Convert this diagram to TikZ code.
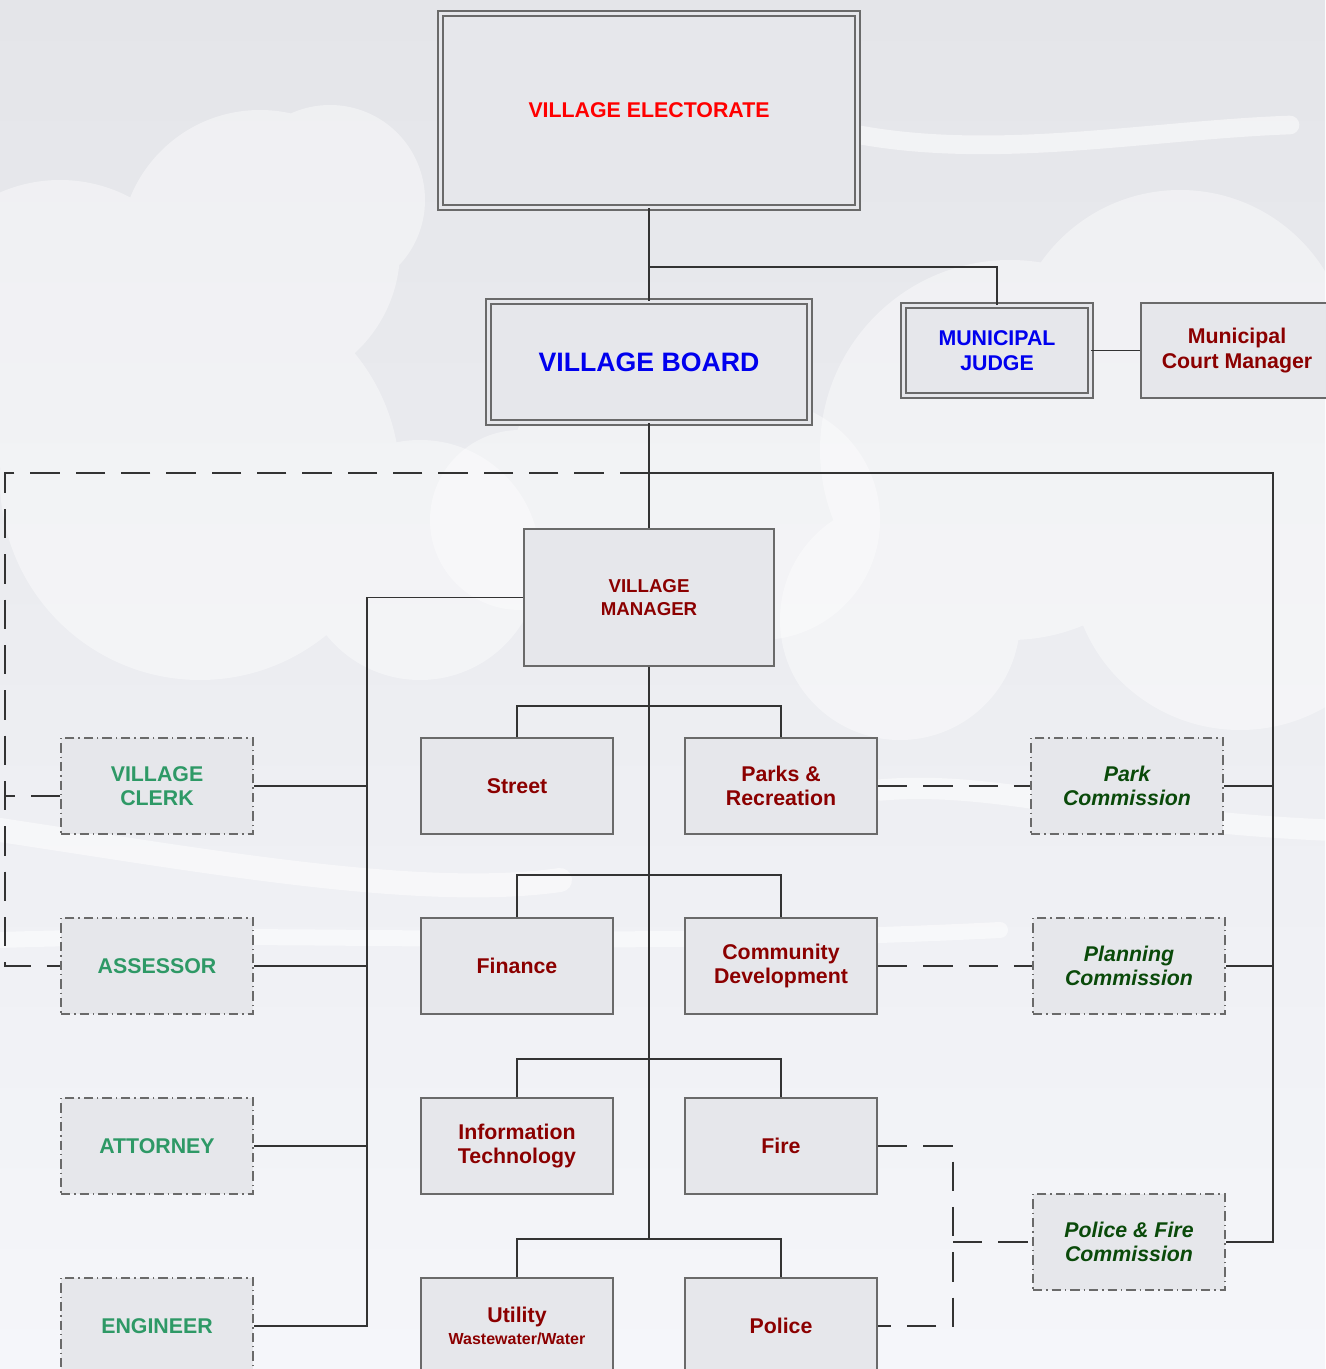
\documentclass[tikz,border=0pt]{standalone}
\usepackage{fontspec}
\setmainfont{Liberation Sans}
\usetikzlibrary{calc}
\definecolor{boxfill}{HTML}{E6E7EB}
\definecolor{boxline}{HTML}{6A6A6A}
\definecolor{conn}{HTML}{333333}
\definecolor{elred}{HTML}{FF0000}
\definecolor{bdblue}{HTML}{0000EE}
\definecolor{deptred}{HTML}{8B0000}
\definecolor{staffgreen}{HTML}{2E9966}
\definecolor{commgreen}{HTML}{0A4A0A}
\definecolor{bgtop}{HTML}{E4E5E9}
\definecolor{bgbot}{HTML}{F5F6FA}
\begin{document}
\begin{tikzpicture}[x=0.75pt,y=-0.75pt,
  box/.style={draw=boxline, line width=1.4pt, fill=boxfill, inner sep=0pt, align=center,
    font=\bfseries\fontsize{16}{18.5}\selectfont},
  dbl/.style={box, double=boxfill, double distance=2.2pt, line width=1.2pt},
  dept/.style={box, text=deptred, minimum width=144pt, minimum height=72pt},
  staff/.style={box, text=staffgreen, minimum width=144pt, minimum height=72pt,
    dash pattern=on 7pt off 3pt on 1pt off 3pt},
  comm/.style={staff, text=commgreen, font=\bfseries\itshape\fontsize{16}{18.5}\selectfont},
  link/.style={draw=conn, line width=1.1pt},
  dlink/.style={link, dash pattern=on 22pt off 12pt},
  cloud/.style={fill=white, opacity=0.4},
  swirl/.style={draw=white, opacity=0.5, line cap=round}]
\useasboundingbox (0,0) rectangle (1325,1369);
% background
\fill[top color=bgtop, bottom color=bgbot] (0,0) rectangle (1325,1369);
\fill[cloud] (60,330) circle (150) (260,250) circle (140) (330,200) circle (95)
  (200,480) circle (200) (420,560) circle (120);
\fill[cloud] (620,470) circle (110) (760,520) circle (120) (520,520) circle (90);
\fill[cloud] (1010,450) circle (190) (1180,360) circle (170) (1240,560) circle (170)
  (900,620) circle (120);
\draw[swirl, line width=14pt] (860,135) .. controls (1000,160) and (1150,130) .. (1290,125);
\draw[swirl, line width=18pt] (0,830) .. controls (200,860) and (420,900) .. (560,880);
\draw[swirl, line width=16pt] (880,790) .. controls (1000,780) and (1100,820) .. (1325,830);
\draw[swirl, line width=12pt] (0,940) .. controls (300,930) and (600,950) .. (1000,930);

% nodes
\node[dbl, text=elred, minimum width=312.75pt, minimum height=145.5pt,
  font=\bfseries\fontsize{16}{18.5}\selectfont] (elect) at (649,110.5) {VILLAGE ELECTORATE};
\node[dbl, text=bdblue, minimum width=240.75pt, minimum height=90.75pt,
  font=\bfseries\fontsize{20}{23}\selectfont] (board) at (649,362) {VILLAGE BOARD};
\node[dbl, text=bdblue, minimum width=140.25pt, minimum height=67.5pt] (judge) at (997,350.5) {MUNICIPAL\\JUDGE};
\node[box, text=deptred, minimum width=144pt, minimum height=71.25pt] (court) at (1237,350.5) {Municipal\\Court Manager};
\node[box, text=deptred, minimum width=187.5pt, minimum height=102.75pt,
  font=\bfseries\fontsize{14}{17}\selectfont] (mgr) at (649,597.5) {VILLAGE\\MANAGER};

\node[dept] (street)  at (517,786)  {Street};
\node[dept] (parks)   at (781,786)  {Parks \&\\Recreation};
\node[dept] (finance) at (517,966)  {Finance};
\node[dept] (comdev)  at (781,966)  {Community\\Development};
\node[dept] (it)      at (517,1146) {Information\\Technology};
\node[dept] (fire)    at (781,1146) {Fire};
\node[dept] (utility) at (517,1326) {Utility\\[-2pt]{\fontsize{12}{14}\selectfont Wastewater/Water}};
\node[dept] (police)  at (781,1326) {Police};

\node[staff] (clerk)    at (157,786)  {VILLAGE\\CLERK};
\node[staff] (assessor) at (157,966)  {ASSESSOR};
\node[staff] (attorney) at (157,1146) {ATTORNEY};
\node[staff] (engineer) at (157,1326) {ENGINEER};

\node[comm] (parkc) at (1127,786)  {Park\\Commission};
\node[comm] (planc) at (1129,966)  {Planning\\Commission};
\node[comm] (pfc)   at (1129,1242) {Police \& Fire\\Commission};

% coordinates
\coordinate (j1) at (649,267);
\coordinate (r1) at (1273,473);
\coordinate (l1) at (5,473);
\coordinate (m1) at (367,600);
\coordinate (b1) at (649,706);
\coordinate (b2) at (649,875);
\coordinate (b3) at (649,1059);
\coordinate (b4) at (649,1239);
\coordinate (fx) at (953,1147);

% connectors
\draw[link] (elect.south) -- (board.north);
\draw[link] (j1) -| (judge.north);
\draw[link] (judge.east) -- (court.west);
\draw[link] (board.south) -- (mgr.north);
\draw[link] (board.south |- r1) -- (r1) |- (pfc.east);
\draw[link] (parkc.east) -- (parkc.east -| r1);
\draw[link] (planc.east) -- (planc.east -| r1);
\draw[dlink] (board.south |- l1) -- (l1) |- (assessor.west);
\draw[dlink] ($(clerk.west)+(0,10)$) -- ($(clerk.west -| l1)+(0,10)$);

\draw[link] (mgr.west) -- (mgr.west -| m1) -- (engineer.east -| m1) -- (engineer.east);
\draw[link] (clerk.east) -- (clerk.east -| m1);
\draw[link] (assessor.east) -- (assessor.east -| m1);
\draw[link] (attorney.east) -- (attorney.east -| m1);

\draw[link] (mgr.south) -- (b4);
\draw[link] (street.north) |- (b1 -| parks.north) -- (parks.north);
\draw[link] (finance.north) |- (b2 -| comdev.north) -- (comdev.north);
\draw[link] (it.north) |- (b3 -| fire.north) -- (fire.north);
\draw[link] (utility.north) |- (b4 -| police.north) -- (police.north);

\draw[dlink] (parks.east) -- (parkc.west);
\draw[dlink] (comdev.east) -- (planc.west);
\draw[dlink] (fire.east) -- (fire.east -| fx) -- (police.east -| fx) -- (police.east);
\draw[dlink] (pfc.west -| fx) -- (pfc.west);
\end{tikzpicture}
\end{document}
